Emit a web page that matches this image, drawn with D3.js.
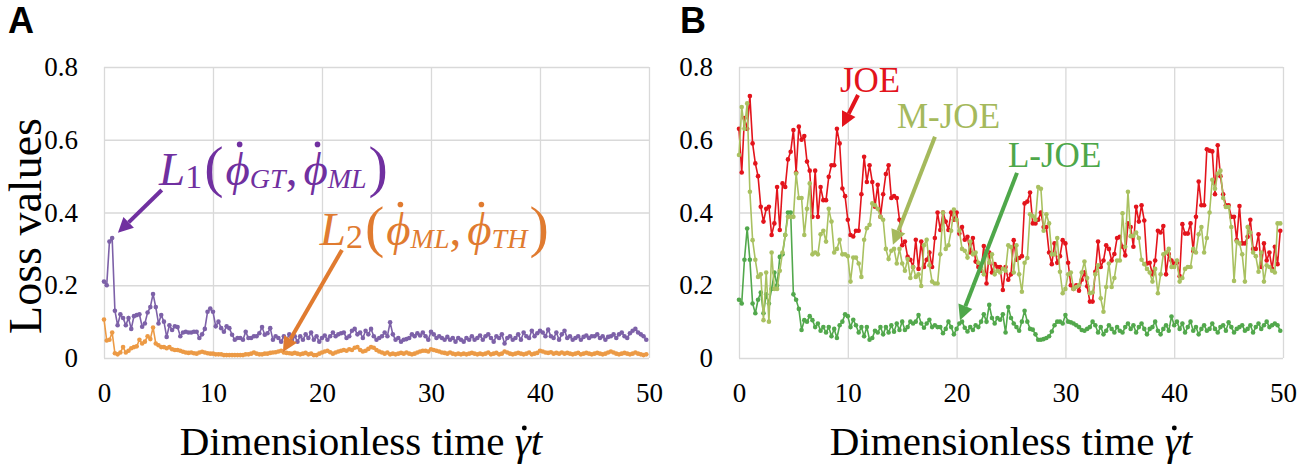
<!DOCTYPE html>
<html>
<head>
<meta charset="utf-8">
<script src="https://d3js.org/d3.v7.min.js"></script>
<style>
body { margin: 0; background: #fff; }
svg text { font-family: "Liberation Serif", "Times New Roman", serif; }
</style>
</head>
<body>
<div id="chart"></div>
<script>
/* Sampling grid: one loss value every 0.25 time units, 200 samples */
var timeStep = 0.25;
var xTicks = [0, 10, 20, 30, 40, 50];
var yTicks = [0, 0.2, 0.4, 0.6, 0.8];
var yTickLabels = ["0", "0.2", "0.4", "0.6", "0.8"];

/* Panel A */
var lossL1 = [
  0.21, 0.20, 0.32, 0.33, 0.13, 0.09, 0.12, 0.11, 0.09, 0.11,
  0.08, 0.115, 0.118, 0.12, 0.086, 0.095, 0.125, 0.14, 0.176, 0.14,
  0.095, 0.118, 0.10, 0.058, 0.09, 0.077, 0.087, 0.085, 0.06, 0.07,
  0.072, 0.07, 0.07, 0.072, 0.072, 0.055, 0.065, 0.08, 0.127, 0.136,
  0.127, 0.087, 0.10, 0.082, 0.072, 0.087, 0.082, 0.064, 0.05, 0.055,
  0.055, 0.05, 0.072, 0.055, 0.055, 0.06, 0.06, 0.068, 0.085, 0.064,
  0.068, 0.082, 0.05, 0.06, 0.055, 0.045, 0.06, 0.05, 0.065, 0.05,
  0.06, 0.045, 0.06, 0.05, 0.065, 0.055, 0.07, 0.05, 0.06, 0.045,
  0.055, 0.062, 0.05, 0.06, 0.07, 0.06, 0.065, 0.068, 0.07, 0.055,
  0.06, 0.075, 0.08, 0.065, 0.07, 0.055, 0.075, 0.065, 0.08, 0.06,
  0.05, 0.055, 0.06, 0.07, 0.06, 0.098, 0.065, 0.05, 0.055, 0.045,
  0.05, 0.052, 0.055, 0.065, 0.06, 0.068, 0.062, 0.07, 0.06, 0.05,
  0.072, 0.065, 0.055, 0.06, 0.055, 0.05, 0.058, 0.05, 0.055, 0.045,
  0.055, 0.05, 0.045, 0.055, 0.05, 0.06, 0.05, 0.055, 0.062, 0.05,
  0.06, 0.065, 0.055, 0.045, 0.06, 0.055, 0.065, 0.04, 0.055, 0.06,
  0.05, 0.055, 0.065, 0.05, 0.07, 0.06, 0.055, 0.075, 0.06, 0.068,
  0.075, 0.07, 0.06, 0.078, 0.06, 0.055, 0.07, 0.05, 0.065, 0.075,
  0.055, 0.06, 0.05, 0.055, 0.06, 0.05, 0.058, 0.062, 0.055, 0.06,
  0.06, 0.065, 0.055, 0.06, 0.05, 0.058, 0.06, 0.065, 0.055, 0.065,
  0.07, 0.06, 0.055, 0.068, 0.075, 0.08, 0.07, 0.065, 0.06, 0.05
];
var lossL2 = [
  0.106, 0.048, 0.05, 0.07, 0.013, 0.01, 0.015, 0.03, 0.015, 0.02,
  0.027, 0.03, 0.032, 0.05, 0.04, 0.045, 0.06, 0.052, 0.084, 0.04,
  0.035, 0.03, 0.03, 0.027, 0.03, 0.024, 0.022, 0.022, 0.02, 0.017,
  0.015, 0.014, 0.015, 0.013, 0.012, 0.015, 0.017, 0.015, 0.013, 0.012,
  0.012, 0.01, 0.01, 0.01, 0.008, 0.008, 0.008, 0.008, 0.008, 0.008,
  0.008, 0.008, 0.01, 0.01, 0.012, 0.015, 0.012, 0.01, 0.01, 0.012,
  0.012, 0.014, 0.015, 0.016, 0.018, 0.02, 0.015, 0.014, 0.013, 0.012,
  0.014, 0.012, 0.01, 0.012, 0.014, 0.01, 0.012, 0.008, 0.008, 0.012,
  0.015, 0.018, 0.02, 0.016, 0.012, 0.015, 0.018, 0.02, 0.022, 0.02,
  0.024, 0.022, 0.028, 0.03, 0.022, 0.018, 0.02, 0.025, 0.03, 0.028,
  0.022, 0.018, 0.015, 0.012, 0.015, 0.01, 0.012, 0.01, 0.012, 0.014,
  0.012, 0.015, 0.012, 0.01, 0.012, 0.015, 0.018, 0.02, 0.02, 0.018,
  0.024, 0.022, 0.02, 0.018, 0.015, 0.014, 0.012, 0.015, 0.012, 0.01,
  0.012, 0.01, 0.012, 0.01, 0.012, 0.014, 0.012, 0.01, 0.012, 0.01,
  0.012, 0.015, 0.01, 0.012, 0.014, 0.01, 0.012, 0.018, 0.015, 0.012,
  0.01, 0.012, 0.014, 0.012, 0.01, 0.012, 0.015, 0.01, 0.012, 0.014,
  0.02, 0.018, 0.015, 0.014, 0.016, 0.012, 0.014, 0.012, 0.015, 0.012,
  0.014, 0.012, 0.01, 0.012, 0.014, 0.01, 0.012, 0.014, 0.012, 0.01,
  0.012, 0.014, 0.012, 0.01, 0.012, 0.015, 0.018, 0.015, 0.012, 0.01,
  0.012, 0.014, 0.012, 0.01, 0.012, 0.015, 0.012, 0.01, 0.008, 0.01
];

/* Panel B */
var lossJOE = [
  0.63, 0.51, 0.66, 0.63, 0.72, 0.59, 0.535, 0.50, 0.416, 0.375,
  0.41, 0.416, 0.338, 0.37, 0.47, 0.352, 0.48, 0.47, 0.546, 0.567,
  0.627, 0.51, 0.636, 0.60, 0.61, 0.54, 0.515, 0.388, 0.515, 0.388,
  0.47, 0.434, 0.434, 0.498, 0.53, 0.53, 0.63, 0.59, 0.466, 0.445,
  0.38, 0.338, 0.334, 0.35, 0.35, 0.45, 0.553, 0.484, 0.53, 0.484,
  0.416, 0.476, 0.388, 0.45, 0.506, 0.53, 0.44, 0.445, 0.44, 0.38,
  0.31, 0.32, 0.278, 0.27, 0.25, 0.325, 0.245, 0.32, 0.25, 0.27,
  0.29, 0.25, 0.33, 0.40, 0.352, 0.40, 0.375, 0.352, 0.40, 0.38,
  0.40, 0.342, 0.36, 0.325, 0.333, 0.29, 0.33, 0.265, 0.25, 0.24,
  0.308, 0.205, 0.29, 0.235, 0.258, 0.25, 0.25, 0.187, 0.25, 0.215,
  0.23, 0.324, 0.27, 0.275, 0.28, 0.425, 0.43, 0.455, 0.37, 0.37,
  0.38, 0.40, 0.36, 0.36, 0.29, 0.258, 0.315, 0.262, 0.28, 0.324,
  0.315, 0.262, 0.20, 0.19, 0.20, 0.185, 0.215, 0.235, 0.197, 0.155,
  0.155, 0.237, 0.32, 0.25, 0.268, 0.31, 0.30, 0.268, 0.286, 0.33,
  0.333, 0.306, 0.282, 0.37, 0.36, 0.306, 0.416, 0.375, 0.42, 0.378,
  0.26, 0.262, 0.23, 0.268, 0.35, 0.345, 0.363, 0.23, 0.286, 0.268,
  0.26, 0.262, 0.225, 0.368, 0.342, 0.342, 0.37, 0.294, 0.388, 0.485,
  0.42, 0.42, 0.574, 0.57, 0.568, 0.45, 0.585, 0.50, 0.45, 0.42,
  0.42, 0.388, 0.388, 0.324, 0.418, 0.315, 0.315, 0.333, 0.38, 0.30,
  0.30, 0.34, 0.25, 0.315, 0.268, 0.29, 0.245, 0.306, 0.258, 0.35
];
var lossMJOE = [
  0.558, 0.69, 0.63, 0.70, 0.457, 0.324, 0.27, 0.223, 0.23, 0.104,
  0.235, 0.10, 0.29, 0.19, 0.19, 0.24, 0.29, 0.338, 0.388, 0.388,
  0.388, 0.507, 0.44, 0.44, 0.338, 0.41, 0.48, 0.285, 0.29, 0.285,
  0.34, 0.35, 0.32, 0.41, 0.375, 0.29, 0.30, 0.325, 0.285, 0.285,
  0.28, 0.21, 0.276, 0.276, 0.26, 0.223, 0.325, 0.357, 0.366, 0.425,
  0.42, 0.41, 0.388, 0.38, 0.30, 0.272, 0.295, 0.30, 0.26, 0.30,
  0.26, 0.24, 0.272, 0.22, 0.25, 0.223, 0.23, 0.198, 0.31, 0.325,
  0.255, 0.21, 0.205, 0.205, 0.285, 0.40, 0.30, 0.31, 0.35, 0.408,
  0.38, 0.35, 0.30, 0.295, 0.276, 0.32, 0.285, 0.29, 0.262, 0.25,
  0.23, 0.292, 0.262, 0.285, 0.23, 0.24, 0.235, 0.245, 0.24, 0.31,
  0.305, 0.235, 0.31, 0.23, 0.182, 0.262, 0.275, 0.395, 0.39, 0.38,
  0.47, 0.465, 0.35, 0.395, 0.37, 0.285, 0.285, 0.33, 0.237, 0.178,
  0.19, 0.23, 0.235, 0.19, 0.195, 0.20, 0.235, 0.265, 0.22, 0.178,
  0.18, 0.23, 0.255, 0.164, 0.127, 0.195, 0.26, 0.195, 0.22, 0.268,
  0.268, 0.398, 0.306, 0.457, 0.335, 0.336, 0.345, 0.33, 0.27, 0.258,
  0.245, 0.235, 0.21, 0.245, 0.178, 0.23, 0.285, 0.29, 0.30, 0.25,
  0.25, 0.268, 0.21, 0.22, 0.245, 0.25, 0.25, 0.30, 0.29, 0.34,
  0.36, 0.29, 0.33, 0.40, 0.49, 0.465, 0.507, 0.515, 0.44, 0.415,
  0.415, 0.36, 0.212, 0.32, 0.315, 0.285, 0.21, 0.36, 0.345, 0.29,
  0.28, 0.237, 0.29, 0.21, 0.255, 0.25, 0.24, 0.235, 0.37, 0.37
];
var lossLJOE = [
  0.16, 0.15, 0.27, 0.356, 0.27, 0.15, 0.123, 0.16, 0.18, 0.123,
  0.175, 0.15, 0.19, 0.235, 0.20, 0.278, 0.285, 0.338, 0.40, 0.40,
  0.175, 0.16, 0.135, 0.077, 0.104, 0.10, 0.115, 0.104, 0.085, 0.095,
  0.075, 0.085, 0.07, 0.085, 0.06, 0.08, 0.055, 0.09, 0.10, 0.12,
  0.115, 0.085, 0.105, 0.09, 0.07, 0.085, 0.06, 0.085, 0.05, 0.055,
  0.075, 0.07, 0.085, 0.065, 0.085, 0.07, 0.09, 0.072, 0.095, 0.077,
  0.10, 0.077, 0.085, 0.10, 0.095, 0.10, 0.118, 0.095, 0.083, 0.095,
  0.105, 0.085, 0.09, 0.085, 0.085, 0.068, 0.08, 0.10, 0.085, 0.065,
  0.08, 0.095, 0.10, 0.083, 0.073, 0.085, 0.077, 0.09, 0.085, 0.10,
  0.12, 0.10, 0.146, 0.11, 0.095, 0.11, 0.105, 0.12, 0.07, 0.14,
  0.11, 0.095, 0.085, 0.075, 0.10, 0.13, 0.10, 0.08, 0.078, 0.065,
  0.05, 0.05, 0.052, 0.055, 0.06, 0.073, 0.09, 0.10, 0.10, 0.095,
  0.118, 0.10, 0.098, 0.095, 0.09, 0.085, 0.077, 0.075, 0.08, 0.085,
  0.10, 0.09, 0.07, 0.085, 0.065, 0.075, 0.09, 0.08, 0.07, 0.085,
  0.075, 0.07, 0.085, 0.095, 0.08, 0.09, 0.07, 0.085, 0.095, 0.08,
  0.065, 0.08, 0.085, 0.10, 0.075, 0.065, 0.08, 0.09, 0.075, 0.114,
  0.09, 0.10, 0.08, 0.095, 0.07, 0.085, 0.10, 0.075, 0.085, 0.065,
  0.08, 0.09, 0.075, 0.08, 0.095, 0.08, 0.07, 0.085, 0.09, 0.075,
  0.098, 0.085, 0.07, 0.08, 0.085, 0.09, 0.075, 0.08, 0.09, 0.07,
  0.085, 0.095, 0.08, 0.09, 0.10, 0.085, 0.09, 0.095, 0.09, 0.075
];

var W = 1301, H = 464;
var plotTop = 67, plotBottom = 358;
var serif = "'Liberation Serif', 'Times New Roman', serif";

var svg = d3.select("#chart").append("svg")
    .attr("width", W)
    .attr("height", H);

function toPoints(values)
{
    return values.map(function(v, i) { return {t: i * timeStep, v: v}; });
}

/* Build one panel: grid, ticks, and returns its scales */
function drawPanel(left, right)
{
    var x = d3.scaleLinear().domain([0, 50]).range([left, right]);
    var y = d3.scaleLinear().domain([0, 0.8]).range([plotBottom, plotTop]);

    var gx = svg.append("g")
        .attr("transform", "translate(0," + plotBottom + ")")
        .call(d3.axisBottom(x).tickValues(xTicks).tickSize(-(plotBottom - plotTop)).tickPadding(25));
    var gy = svg.append("g")
        .attr("transform", "translate(" + left + ",0)")
        .call(d3.axisLeft(y).tickValues(yTicks).tickSize(-(right - left)).tickPadding(26)
            .tickFormat(function(d, i) { return yTickLabels[i]; }));

    [gx, gy].forEach(function(g) {
        g.attr("font-family", null).attr("font-size", null);
        g.select(".domain").remove();
        g.selectAll(".tick line").attr("stroke", "#d9d9d9").attr("stroke-width", 1.3);
        g.selectAll(".tick text")
            .style("font-family", serif)
            .style("font-size", "27px")
            .attr("fill", "#000");
    });
    return {x: x, y: y};
}

function drawSeries(sc, values, color)
{
    var pts = toPoints(values);
    var line = d3.line()
        .x(function(d) { return sc.x(d.t); })
        .y(function(d) { return sc.y(d.v); });

    svg.append("path")
        .datum(pts)
        .attr("d", line)
        .attr("fill", "none")
        .attr("stroke", color)
        .attr("stroke-width", 1.6);

    svg.append("g").selectAll("circle")
        .data(pts)
        .enter().append("circle")
        .attr("cx", function(d) { return sc.x(d.t); })
        .attr("cy", function(d) { return sc.y(d.v); })
        .attr("r", 2.3)
        .attr("fill", color);
}

/* Straight arrow with a filled head, endpoints in data units */
function drawArrow(sc, t1, v1, t2, v2, color)
{
    var x1 = sc.x(t1), y1 = sc.y(v1), x2 = sc.x(t2), y2 = sc.y(v2);
    var a = Math.atan2(y2 - y1, x2 - x1);
    var len = 15, half = 7.5;
    var bx = x2 - len * Math.cos(a), by = y2 - len * Math.sin(a);
    svg.append("line")
        .attr("x1", x1).attr("y1", y1)
        .attr("x2", bx).attr("y2", by)
        .attr("stroke", color)
        .attr("stroke-width", 4);
    var px = -Math.sin(a) * half, py = Math.cos(a) * half;
    svg.append("polygon")
        .attr("points", [[x2, y2], [bx + px, by + py], [bx - px, by - py]].map(function(p) { return p.join(","); }).join(" "))
        .attr("fill", color);
}

/* Math-like label made of pieces laid out left to right */
function drawPieces(g, x0, y0, parts, color)
{
    var cx = x0;
    parts.forEach(function(p) {
        var t = g.append("text")
            .attr("x", cx)
            .attr("y", y0 + (p.dy || 0))
            .style("font-family", serif)
            .style("font-size", p.size + "px")
            .style("font-style", p.it ? "italic" : "normal")
            .attr("fill", color)
            .text(p.s);
        var w = t.node().getComputedTextLength();
        if (p.dot)
        {
            g.append("circle")
                .attr("cx", cx + w * p.dot)
                .attr("cy", y0 - p.size * (p.doty || 0.88))
                .attr("r", p.size * 0.06)
                .attr("fill", color);
        }
        cx += w + (p.gap || 0);
    });
    return cx - x0;
}

function phiLabel(idx, sub1, sub2)
{
    return [
        {s: "L", size: 47, it: true},
        {s: idx, size: 34, dy: 3, gap: 2},
        {s: "(", size: 58, dy: 1, gap: 2},
        {s: "\u03D5", size: 47, it: true, dot: 0.58, doty: 0.86},
        {s: sub1, size: 28, it: true, dy: 3},
        {s: ",", size: 47, gap: 6},
        {s: "\u03D5", size: 47, it: true, dot: 0.58, doty: 0.86},
        {s: sub2, size: 28, it: true, dy: 3, gap: 2},
        {s: ")", size: 58, dy: 1}
    ];
}

function axisTitle(cxCenter)
{
    var g = svg.append("g");
    var w = drawPieces(g, 0, 455, [
        {s: "Dimensionless time\u00A0", size: 41},
        {s: "\u03B3", size: 41, it: true, dot: 0.6, doty: 0.66},
        {s: "t", size: 41, it: true}
    ], "#000");
    g.attr("transform", "translate(" + (cxCenter - w / 2) + ",0)");
}

/* ---------- Panel A ---------- */
var scA = drawPanel(104, 649);
drawSeries(scA, lossL2, "#ec9a45");
drawSeries(scA, lossL1, "#7d61a8");

drawArrow(scA, 5.3, 0.462, 1.28, 0.344, "#7030a0");
drawArrow(scA, 21.83, 0.297, 16.42, 0.0165, "#e07b30");
drawPieces(svg.append("g"), scA.x(5.05), scA.y(0.476), phiLabel("1", "GT", "ML"), "#7030a0");
drawPieces(svg.append("g"), scA.x(19.8), scA.y(0.311), phiLabel("2", "ML", "TH"), "#e07b30");

svg.append("text")
    .attr("transform", "translate(41,226) rotate(-90)")
    .attr("text-anchor", "middle")
    .style("font-family", serif)
    .style("font-size", "46px")
    .attr("fill", "#000")
    .text("Loss values");
axisTitle(361);

/* ---------- Panel B ---------- */
var scB = drawPanel(739, 1283);
drawSeries(scB, lossLJOE, "#52a84c");
drawSeries(scB, lossJOE, "#e3141c");
drawSeries(scB, lossMJOE, "#a9c161");

function bLabel(t, v, txt, color)
{
    svg.append("text").attr("x", scB.x(t)).attr("y", scB.y(v))
        .style("font-family", serif)
        .style("font-size", "35px")
        .attr("fill", color)
        .text(txt);
}
bLabel(9.28, 0.731, "JOE", "#e3141c");
drawArrow(scB, 10.94, 0.723, 9.47, 0.635, "#e3141c");
bLabel(14.52, 0.632, "M-JOE", "#a5b95c");
drawArrow(scB, 18.01, 0.608, 14.15, 0.311, "#a5b95c");
bLabel(24.72, 0.525, "L-JOE", "#4ea74a");
drawArrow(scB, 25.55, 0.509, 20.31, 0.104, "#4ea74a");

axisTitle(1011);

/* Panel letters */
[["A", 8], ["B", 680]].forEach(function(p) {
    svg.append("text")
        .attr("x", p[1]).attr("y", 33)
        .style("font-family", "'Liberation Sans', Arial, sans-serif")
        .style("font-weight", "bold")
        .style("font-size", "36px")
        .attr("fill", "#000")
        .text(p[0]);
});
</script>
</body>
</html>
